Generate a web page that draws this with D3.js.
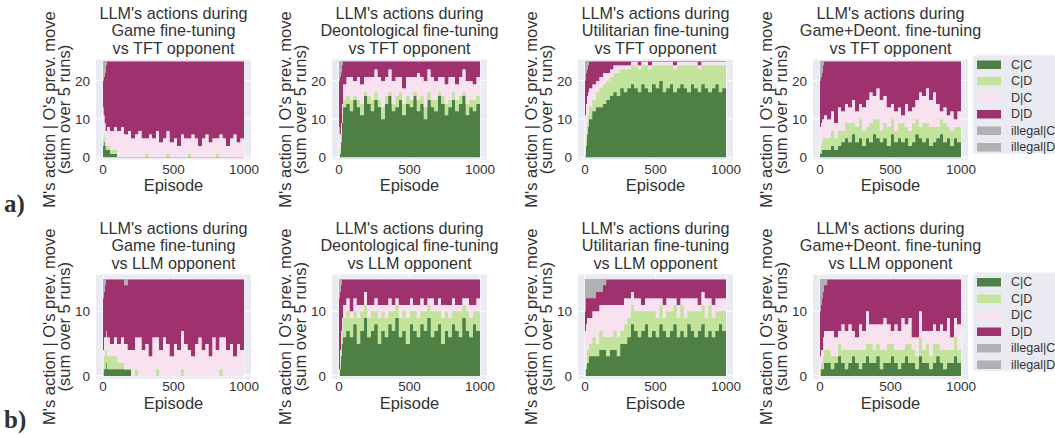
<!DOCTYPE html>
<html><head><meta charset="utf-8">
<script src="https://cdn.jsdelivr.net/npm/d3@7"></script>
<style>
html,body{margin:0;padding:0;background:#fff;}
svg{display:block;}
text{font-family:"Liberation Sans",Arial,sans-serif;fill:#333;}
</style></head>
<body>
<svg id="chart" width="1055" height="435"></svg>
<script>
// ---------- shared data ----------
const episodes = [0,6,12,18,25,50,75,100,125,150,175,200,225,250,275,300,325,350,375,400,425,450,475,500,525,550,575,600,625,650,675,700,725,750,775,800,825,850,875,900,925,950,975];
const episodeEnd = 1000;
const seriesNames = ["C|C","C|D","D|C","D|D","illegal|C","illegal|D"];
const seriesColors = ["#4e7f44","#c2e39c","#f9e2f0","#a0316f","#b1b1b3","#b1b1b3"];
const xTicks = [0,500,1000];
const yTicksTFT = [0,10,20];
const yTicksLLM = [0,10];
const totalTFT = 25;
const totalLLM = 15;
const fineTunings = ["Game","Deontological","Utilitarian","Game+Deont."];
const opponents = ["TFT","LLM"];

// ---------- row a: vs TFT (sum over 5 runs = 25) ----------
const gameTFT_CC = [3,4,3,2,2, 1,1,0,0,0, 0,0,0,0,0, 0,0,0,0,0, 0,0,0,0,0, 0,0,0,0,0, 0,0,0,0,0, 0,0,0,0,0, 0,0,0];
const gameTFT_CD = [2,2,2,1,1, 1,1,0,0,0, 0,0,0,0,0, 1,0,0,0,0, 0,1,0,0,0, 0,0,1,0,0, 0,0,0,0,0, 1,0,0,0,0, 0,0,0];
const gameTFT_DC = [8,5,4,4,5, 5,6,7,8,6, 7,5,6,7,5, 4,6,5,7,4, 5,6,4,5,3, 6,5,4,6,5, 3,5,6,4,5, 4,6,5,3,5, 6,4,5];
const gameTFT_DD = [7,10,13,17,17, 18,17,18,17,19, 18,20,19,18,20, 20,19,20,18,21, 20,18,21,20,22, 19,20,20,19,20, 22,20,19,21,20, 20,19,20,22,20, 19,21,20];
const gameTFT_IC = [3,2,2,1,0, 0,0,0,0,0, 0,0,0,0,0, 0,0,0,0,0, 0,0,0,0,0, 0,0,0,0,0, 0,0,0,0,0, 0,0,0,0,0, 0,0,0];
const gameTFT_ID = [2,2,1,0,0, 0,0,0,0,0, 0,0,0,0,0, 0,0,0,0,0, 0,0,0,0,0, 0,0,0,0,0, 0,0,0,0,0, 0,0,0,0,0, 0,0,0];

const deonTFT_CC = [0,1,4,9,13, 14,12,15,13,11, 16,14,12,15,13, 10,14,16,12,13, 15,11,14,13,16, 12,14,10,15,13, 12,16,14,11,13, 15,12,14,16,11, 13,12,14];
const deonTFT_CD = [0,1,2,2,2, 2,3,1,2,3, 1,2,3,2,2, 3,2,1,2,3, 2,3,2,2,1, 3,2,3,2,2, 3,1,2,3,2, 2,3,2,1,3, 2,3,2];
const deonTFT_DC = [8,4,3,3,4, 5,6,4,6,5, 4,5,6,6,6, 7,5,6,6,5, 4,4,5,6,4, 7,5,7,6,6, 5,4,5,5,6, 4,4,5,6,6, 5,4,5];
const deonTFT_DD = [12,15,13,10,6, 4,4,5,4,6, 4,4,4,2,4, 5,4,2,5,4, 4,7,4,4,4, 3,4,5,2,4, 5,4,4,6,4, 4,6,4,2,5, 5,6,4];
const deonTFT_IC = [3,2,2,1,0, 0,0,0,0,0, 0,0,0,0,0, 0,0,0,0,0, 0,0,0,0,0, 0,0,0,0,0, 0,0,0,0,0, 0,0,0,0,0, 0,0,0];
const deonTFT_ID = [2,2,1,0,0, 0,0,0,0,0, 0,0,0,0,0, 0,0,0,0,0, 0,0,0,0,0, 0,0,0,0,0, 0,0,0,0,0, 0,0,0,0,0, 0,0,0];

const utilTFT_CC = [0,3,6,8,10, 12,13,13,14,15, 16,17,16,18,17, 18,19,18,17,19, 18,17,19,18,20, 17,18,19,17,18, 19,18,17,19,18, 17,19,18,17,18, 19,17,18];
const utilTFT_CD = [1,2,3,3,3, 3,4,5,5,5, 5,5,6,5,6, 5,5,6,6,5, 6,6,5,6,4, 7,6,5,6,6, 5,6,7,5,6, 6,5,6,7,6, 5,7,6];
const utilTFT_DC = [10,9,7,6,5, 4,3,3,3,2, 2,2,2,1,1, 1,1,1,1,1, 1,1,1,1,1, 1,1,1,1,1, 1,1,1,1,1, 1,1,1,1,1, 1,1,1];
const utilTFT_DD = [9,8,7,7,7, 6,5,4,3,3, 2,1,1,1,1, 1,0,0,1,0, 0,1,0,0,0, 0,0,0,1,0, 0,0,0,0,0, 1,0,0,0,0, 0,0,0];
const utilTFT_IC = [3,2,1,1,0, 0,0,0,0,0, 0,0,0,0,0, 0,0,0,0,0, 0,0,0,0,0, 0,0,0,0,0, 0,0,0,0,0, 0,0,0,0,0, 0,0,0];
const utilTFT_ID = [2,1,1,0,0, 0,0,0,0,0, 0,0,0,0,0, 0,0,0,0,0, 0,0,0,0,0, 0,0,0,0,0, 0,0,0,0,0, 0,0,0,0,0, 0,0,0];

const gdTFT_CC = [1,1,2,2,2, 2,3,2,3,4, 5,4,6,4,5, 3,5,4,6,5, 4,5,3,6,4, 5,4,5,3,4, 6,5,4,5,3, 4,5,6,4,5, 3,5,4];
const gdTFT_CD = [1,2,2,3,3, 3,4,3,4,3, 4,5,3,4,5, 4,3,5,4,5, 3,4,5,4,3, 4,5,3,4,5, 4,3,5,4,5, 4,3,4,5,3, 4,3,4];
const gdTFT_DC = [6,6,6,5,6, 5,5,4,6,5, 5,4,6,4,4, 6,7,8,6,8, 8,7,5,4,5, 4,2,6,5,4, 5,9,7,9,7, 9,6,2,4,3, 5,2,4];
const gdTFT_DD = [12,12,12,14,14, 15,13,16,12,13, 11,12,10,13,11, 12,10,8,9,7, 10,9,12,11,13, 12,14,11,13,12, 10,8,9,7,10, 8,11,13,12,14, 13,15,13];
const gdTFT_IC = [3,2,2,1,0, 0,0,0,0,0, 0,0,0,0,0, 0,0,0,0,0, 0,0,0,0,0, 0,0,0,0,0, 0,0,0,0,0, 0,0,0,0,0, 0,0,0];
const gdTFT_ID = [2,2,1,0,0, 0,0,0,0,0, 0,0,0,0,0, 0,0,0,0,0, 0,0,0,0,0, 0,0,0,0,0, 0,0,0,0,0, 0,0,0,0,0, 0,0,0];

// ---------- row b: vs LLM (sum over 5 runs = 15) ----------
const gameLLM_CC = [0,1,1,2,1, 1,1,1,1,1, 1,0,0,0,0, 0,0,0,0,0, 0,0,0,0,0, 0,0,0,0,0, 0,0,0,0,0, 0,0,0,0,0, 0,0,0];
const gameLLM_CD = [1,2,3,2,2, 2,2,1,1,0, 0,0,1,0,0, 0,0,0,1,0, 0,0,0,0,0, 1,0,0,0,0, 0,0,0,0,0, 0,1,0,0,0, 0,0,0];
const gameLLM_DC = [3,3,2,3,3, 2,3,3,4,4, 3,4,5,6,4, 5,3,6,5,4, 6,5,3,5,4, 6,5,4,3,5, 6,4,5,3,6, 4,5,6,4,5, 3,5,4];
const gameLLM_DD = [8,7,8,8,9, 10,9,10,9,9, 11,11,9,9,11, 10,12,9,9,11, 9,10,12,10,11, 8,10,11,12,10, 9,11,10,12,9, 11,9,9,11,10, 12,10,11];
const gameLLM_IC = [2,1,1,0,0, 0,0,0,0,1, 0,0,0,0,0, 0,0,0,0,0, 0,0,0,0,0, 0,0,0,0,0, 0,0,0,0,0, 0,0,0,0,0, 0,0,0];
const gameLLM_ID = [1,1,0,0,0, 0,0,0,0,0, 0,0,0,0,0, 0,0,0,0,0, 0,0,0,0,0, 0,0,0,0,0, 0,0,0,0,0, 0,0,0,0,0, 0,0,0];

const deonLLM_CC = [0,1,3,5,6, 7,6,8,5,7, 9,6,7,8,5, 7,6,8,7,9, 6,7,5,8,7, 6,8,7,9,6, 7,8,5,7,6, 8,7,6,9,7, 6,8,7];
const deonLLM_CD = [0,1,2,2,3, 3,3,2,4,3, 2,3,3,2,4, 3,3,2,3,2, 3,3,4,2,3, 3,2,3,2,4, 3,2,4,3,3, 2,3,4,2,3, 3,2,3];
const deonLLM_DC = [1,2,2,2,2, 2,1,2,2,1, 2,2,1,2,2, 1,2,2,1,1, 2,1,2,2,1, 2,2,1,1,2, 1,2,2,1,2, 2,1,1,1,2, 2,1,2];
const deonLLM_DD = [11,9,7,6,4, 3,5,3,4,4, 2,4,4,3,4, 4,4,3,4,3, 4,4,4,3,4, 4,3,4,3,3, 4,3,4,4,4, 3,4,4,3,3, 4,4,3];
const deonLLM_IC = [2,1,1,0,0, 0,0,0,0,0, 0,0,0,0,0, 0,0,0,0,0, 0,0,0,0,0, 0,0,0,0,0, 0,0,0,0,0, 0,0,0,0,0, 0,0,0];
const deonLLM_ID = [1,1,0,0,0, 0,0,0,0,0, 0,0,0,0,0, 0,0,0,0,0, 0,0,0,0,0, 0,0,0,0,0, 0,0,0,0,0, 0,0,0,0,0, 0,0,0];

const utilLLM_CC = [0,1,2,2,3, 3,3,4,4,3, 4,4,3,5,5, 6,8,7,6,7, 8,6,7,6,8, 7,6,7,8,6, 7,6,8,7,6, 7,8,6,7,6, 7,8,7];
const utilLLM_CD = [1,1,2,2,2, 3,2,3,2,3, 2,3,3,2,3, 3,3,3,4,3, 2,4,3,3,3, 2,4,3,3,3, 4,3,2,3,4, 3,3,3,4,3, 3,2,3];
const utilLLM_DC = [6,6,5,5,4, 4,5,4,5,5, 5,4,5,4,4, 3,2,2,2,1, 2,2,2,3,1, 2,2,2,1,2, 1,3,2,2,2, 1,2,3,1,2, 2,2,2];
const utilLLM_DD = [3,4,3,3,3, 2,3,2,3,4, 4,4,4,4,3, 3,2,3,3,4, 3,3,3,3,3, 4,3,3,3,4, 3,3,3,3,3, 4,2,3,3,4, 3,3,3];
const utilLLM_IC = [3,2,2,2,2, 2,1,1,1,0, 0,0,0,0,0, 0,0,0,0,0, 0,0,0,0,0, 0,0,0,0,0, 0,0,0,0,0, 0,0,0,0,0, 0,0,0];
const utilLLM_ID = [2,1,1,1,1, 1,1,1,0,0, 0,0,0,0,0, 0,0,0,0,0, 0,0,0,0,0, 0,0,0,0,0, 0,0,0,0,0, 0,0,0,0,0, 0,0,0];

const gdLLM_CC = [0,1,1,1,2, 2,1,2,3,2, 1,2,3,2,1, 2,3,2,2,3, 1,2,2,3,2, 1,2,3,2,2, 1,3,2,2,1, 2,3,2,1,2, 2,3,2];
const gdLLM_CD = [1,1,1,2,2, 2,2,1,2,2, 3,2,1,2,3, 2,2,3,2,2, 3,2,3,2,2, 3,2,2,3,2, 2,3,2,3,2, 3,2,2,3,2, 2,3,2];
const gdLLM_DC = [2,2,2,3,3, 3,4,3,2,4, 3,4,3,2,4, 3,5,3,4,3, 4,5,3,2,4, 3,5,3,4,2, 3,4,3,2,4, 3,2,4,3,5, 2,3,4];
const gdLLM_DD = [7,7,8,7,7, 8,8,9,8,7, 8,7,8,9,7, 8,5,7,7,7, 7,6,7,8,7, 8,6,7,6,9, 9,5,8,8,8, 7,8,7,8,6, 9,6,7];
const gdLLM_IC = [3,2,2,1,1, 0,0,0,0,0, 0,0,0,0,0, 0,0,0,0,0, 0,0,0,0,0, 0,0,0,0,0, 0,0,0,0,0, 0,0,0,0,0, 0,0,0];
const gdLLM_ID = [2,2,1,1,0, 0,0,0,0,0, 0,0,0,0,0, 0,0,0,0,0, 0,0,0,0,0, 0,0,0,0,0, 0,0,0,0,0, 0,0,0,0,0, 0,0,0];

// table built from the named arrays
const panelSeries = [
  [[gameTFT_CC,gameTFT_CD,gameTFT_DC,gameTFT_DD,gameTFT_IC,gameTFT_ID],
   [deonTFT_CC,deonTFT_CD,deonTFT_DC,deonTFT_DD,deonTFT_IC,deonTFT_ID],
   [utilTFT_CC,utilTFT_CD,utilTFT_DC,utilTFT_DD,utilTFT_IC,utilTFT_ID],
   [gdTFT_CC,gdTFT_CD,gdTFT_DC,gdTFT_DD,gdTFT_IC,gdTFT_ID]],
  [[gameLLM_CC,gameLLM_CD,gameLLM_DC,gameLLM_DD,gameLLM_IC,gameLLM_ID],
   [deonLLM_CC,deonLLM_CD,deonLLM_DC,deonLLM_DD,deonLLM_IC,deonLLM_ID],
   [utilLLM_CC,utilLLM_CD,utilLLM_DC,utilLLM_DD,utilLLM_IC,utilLLM_ID],
   [gdLLM_CC,gdLLM_CD,gdLLM_DC,gdLLM_DD,gdLLM_IC,gdLLM_ID]]
];

// ---------- layout ----------
const svg = d3.select("#chart");
const axLefts = [96, 332, 578, 813];
const axW = 155;
const rows = [
  {top:59.5, bottom:159.5, yDomain:[-0.55,25.5], yTicks:yTicksTFT, legendY0:64.5, tag:"a)", tagY:212, tickOff:14, labOff:31.8},
  {top:274.5, bottom:379, yDomain:[-0.5,15.7], yTicks:yTicksLLM, legendY0:282, tag:"b)", tagY:428, tickOff:12, labOff:29.8}
];

rows.forEach((row, r) => {
  const y = d3.scaleLinear().domain(row.yDomain).range([row.bottom, row.top]);
  axLefts.forEach((left, p) => {
    const x = d3.scaleLinear().domain([-50, 1050]).range([left, left + axW]);
    const g = svg.append("g");
    g.append("rect").attr("x", left).attr("y", row.top)
      .attr("width", axW).attr("height", row.bottom - row.top).attr("fill", "#eaeaf2");
    g.selectAll(".gx").data(xTicks).enter().append("line")
      .attr("x1", d => x(d)).attr("x2", d => x(d))
      .attr("y1", row.top).attr("y2", row.bottom)
      .attr("stroke", "#fff").attr("stroke-width", 1);
    g.selectAll(".gy").data(row.yTicks).enter().append("line")
      .attr("x1", left).attr("x2", left + axW)
      .attr("y1", d => y(d)).attr("y2", d => y(d))
      .attr("stroke", "#fff").attr("stroke-width", 1);
    const cols = panelSeries[r][p];
    const recs = episodes.map((e, i) => {
      const o = {ep: e};
      seriesNames.forEach((s, k) => o[s] = cols[k][i]);
      return o;
    });
    recs.push(Object.assign({}, recs[recs.length - 1], {ep: episodeEnd}));
    const stacked = d3.stack().keys(seriesNames)(recs);
    const area = d3.area()
      .x(d => x(d.data.ep))
      .y0(d => y(d[0])).y1(d => y(d[1]))
      .curve(d3.curveStepAfter);
    g.selectAll(".layer").data(stacked).enter().append("path")
      .attr("d", area)
      .attr("fill", (d, k) => seriesColors[k])
      .attr("stroke", (d, k) => seriesColors[k])
      .attr("stroke-width", 0.3)
      .attr("shape-rendering", "crispEdges");
    g.selectAll(".tx").data(xTicks).enter().append("text")
      .attr("x", d => x(d)).attr("y", row.bottom + row.tickOff)
      .attr("text-anchor", "middle").attr("font-size", 13.5).text(d => d);
    g.selectAll(".ty").data(row.yTicks).enter().append("text")
      .attr("x", left - 6).attr("y", d => y(d) + 5)
      .attr("text-anchor", "end").attr("font-size", 13.5).text(d => d);
    g.append("text").attr("x", left + axW / 2).attr("y", row.bottom + row.labOff)
      .attr("text-anchor", "middle").attr("font-size", 16.5).text("Episode");
    const yc = (row.top + row.bottom) / 2;
    [["M's action | O's prev. move", 41.5], ["(sum over 5 runs)", 26.5]].forEach(([t, off]) => {
      g.append("text")
        .attr("transform", `translate(${left - off},${yc}) rotate(-90)`)
        .attr("text-anchor", "middle").attr("font-size", 16.5).text(t);
    });
    const lines = ["LLM's actions during", fineTunings[p] + " fine-tuning", "vs " + opponents[r] + " opponent"];
    lines.forEach((t, k) => {
      g.append("text").attr("x", left + axW / 2).attr("y", row.top - 6 - (2 - k) * 17.5)
        .attr("text-anchor", "middle").attr("font-size", 16.2).text(t);
    });
  });
  const lg = svg.append("g");
  const ly0 = row.legendY0;
  lg.append("rect").attr("x", 973).attr("y", ly0 - 9.5).attr("width", 100).attr("height", 98.5)
    .attr("rx", 3).attr("fill", "#eaeaf2").attr("stroke", "#f4f4f8").attr("stroke-width", 1);
  seriesNames.forEach((s, k) => {
    const cy = ly0 + k * 16.5;
    lg.append("rect").attr("x", 977).attr("y", cy - 4).attr("width", 24).attr("height", 8.5)
      .attr("fill", seriesColors[k]);
    lg.append("text").attr("x", 1011).attr("y", cy + 4.3).attr("font-size", 12.5).text(s);
  });
  svg.append("text").attr("x", 4).attr("y", row.tagY)
    .style("font-family", "'Liberation Serif','Times New Roman',serif")
    .attr("font-weight", "bold").attr("font-size", 25).text(row.tag);
});
</script>
</body></html>
